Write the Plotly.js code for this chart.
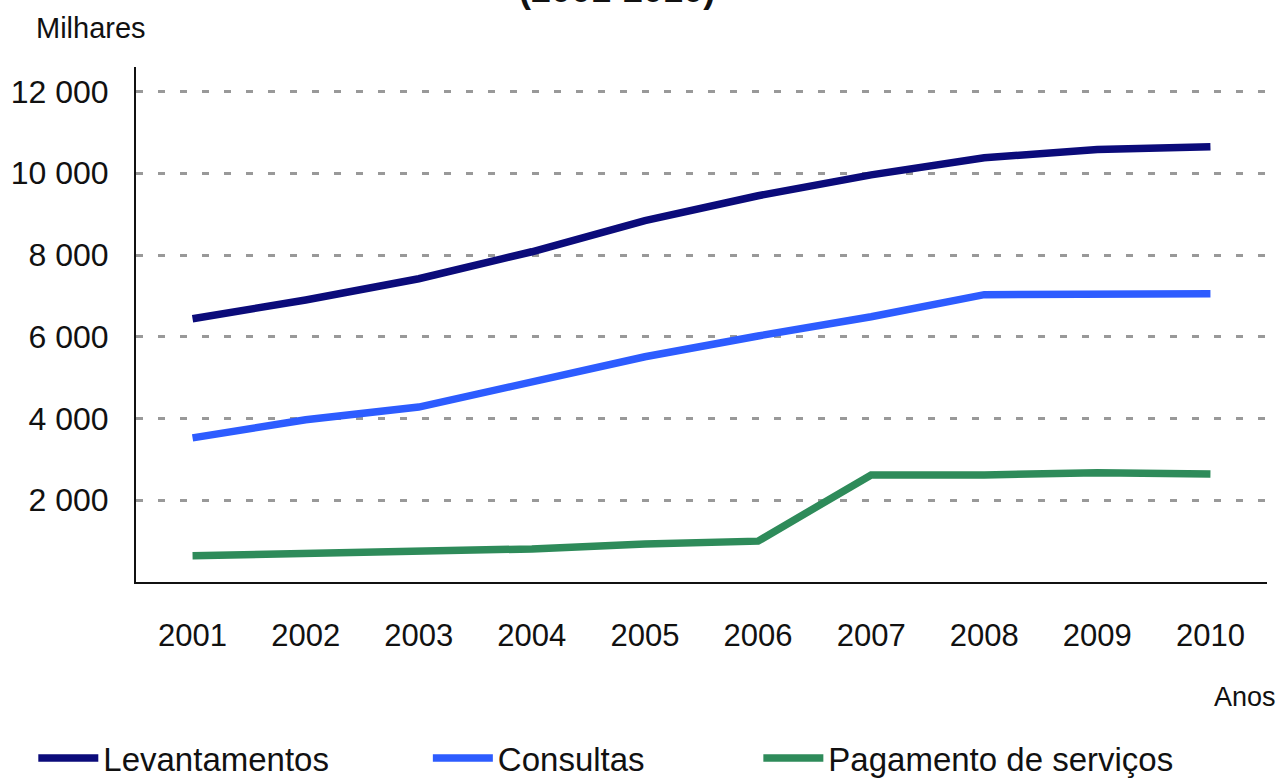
<!DOCTYPE html>
<html>
<head>
<meta charset="utf-8">
<script src="https://cdn.plot.ly/plotly-3.0.1.min.js"></script>
<style>
  html, body { margin: 0; padding: 0; background: #fff; }
  #plot { width: 1281px; height: 779px; }
</style>
</head>
<body>
<div id="plot"></div>
<script>
// anos e valores (milhares)
var anos = ["2001", "2002", "2003", "2004", "2005", "2006", "2007", "2008", "2009", "2010"];
var levantamentos = [6440, 6900, 7420, 8080, 8840, 9450, 9960, 10380, 10580, 10650];
var consultas = [3525, 3970, 4280, 4900, 5510, 6020, 6490, 7030, 7050, 7050];
var pagamentos = [640, 710, 780, 810, 930, 1000, 2620, 2620, 2670, 2640];
var yTicks = [2000, 4000, 6000, 8000, 10000, 12000];

var fontFam = "Liberation Sans, Arial, sans-serif";

var trace1 = {
    x: anos,
    y: levantamentos,
    name: "Levantamentos",
    type: "scatter",
    mode: "lines",
    legend: "legend",
    line: {color: "#0b0b7a", width: 7.5}
};
var trace2 = {
    x: anos,
    y: consultas,
    name: "Consultas",
    type: "scatter",
    mode: "lines",
    legend: "legend2",
    line: {color: "#2d5cff", width: 7.5}
};
var trace3 = {
    x: anos,
    y: pagamentos,
    name: "Pagamento de serviços",
    type: "scatter",
    mode: "lines",
    legend: "legend3",
    line: {color: "#2e8b5a", width: 7.5}
};

// uma legenda por série, para as colocar como no original
function legendAt(x) {
    return {
        orientation: "h",
        xref: "container", yref: "container",
        x: x, xanchor: "left",
        y: 0.027, yanchor: "middle",
        font: {size: 33, color: "#111"},
        itemwidth: 60,
        bgcolor: "rgba(0,0,0,0)"
    };
}

var layout = {
    width: 1281,
    height: 779,
    margin: {l: 136, r: 14, t: 67, b: 197},
    paper_bgcolor: "#fff",
    plot_bgcolor: "#fff",
    separators: ", ",
    font: {family: fontFam, color: "#111", size: 30},
    showlegend: true,
    legend: legendAt(0.026),
    legend2: legendAt(0.334),
    legend3: legendAt(0.592),
    xaxis: {
        type: "category",
        range: [-0.5, 9.5],
        showline: true, linecolor: "#111", linewidth: 2,
        showgrid: false, zeroline: false,
        ticks: "",
        tickfont: {size: 31},
        ticklabelstandoff: 25
    },
    yaxis: {
        range: [0, 12600],
        tickvals: yTicks,
        tickformat: ",",
        showline: true, linecolor: "#111", linewidth: 2,
        showgrid: true, gridcolor: "#999", gridwidth: 3, griddash: "7px,15px",
        zeroline: false,
        ticks: "",
        tickfont: {size: 32},
        ticklabelstandoff: 19
    },
    annotations: [
        {text: "Milhares", xref: "paper", yref: "paper", x: -0.09, y: (582 - 28) / 515,
         xanchor: "left", yanchor: "middle", showarrow: false, font: {size: 29}},
        {text: "Anos", xref: "paper", yref: "paper", x: 1.01, y: (582 - 697) / 515,
         xanchor: "right", yanchor: "middle", showarrow: false, font: {size: 27}},
        {text: "<b>(2001-2010)</b>", xref: "paper", yref: "paper", x: 0.4255, y: (582 - 12) / 515,
         xanchor: "center", yanchor: "bottom", showarrow: false, font: {size: 36}}
    ]
};

Plotly.newPlot("plot", [trace1, trace2, trace3], layout, {displayModeBar: false, staticPlot: true});
</script>
</body>
</html>
